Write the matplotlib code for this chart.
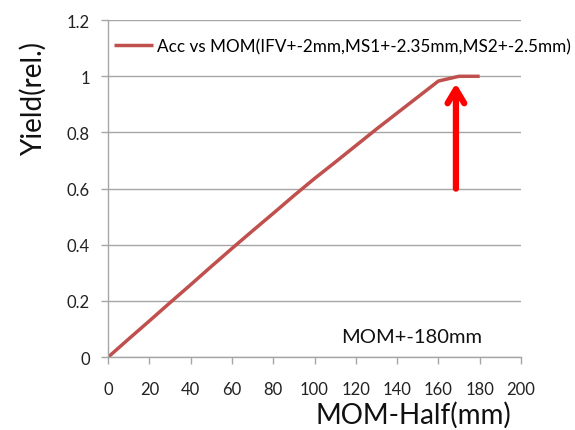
import matplotlib.pyplot as plt

mom_half = [0, 10, 20, 30, 40, 50, 60, 70, 80, 90, 100, 110, 120, 130, 140, 150, 160, 170, 180]
yield_rel = [0, 0.065, 0.129, 0.194, 0.258, 0.323, 0.387, 0.45, 0.512, 0.575, 0.636,
             0.694, 0.753, 0.812, 0.869, 0.926, 0.983, 1.0, 1.0]

x_ticks = list(range(0, 201, 20))
y_ticks = [0, 0.2, 0.4, 0.6, 0.8, 1.0, 1.2]
y_tick_labels = ['0', '0.2', '0.4', '0.6', '0.8', '1', '1.2']

series_label = 'Acc vs MOM(IFV+-2mm,MS1+-2.35mm,MS2+-2.5mm)'

plt.rcParams['font.family'] = ['Lato', 'DejaVu Sans']

fig = plt.figure(figsize=(5.75, 4.31), dpi=100)
ax = fig.add_axes([0.188, 0.169, 0.718, 0.782])

ax.plot(mom_half, yield_rel, color='#C0504D', linewidth=2.5, label=series_label,
        solid_capstyle='butt')

ax.set_xlim(0, 200)
ax.set_ylim(0, 1.2)
ax.set_xticks(x_ticks)
ax.set_yticks(y_ticks)
ax.set_yticklabels(y_tick_labels)
ax.yaxis.grid(True, color='#a6a6a6', linewidth=1)
ax.set_axisbelow(True)

for side in ['top', 'right']:
    ax.spines[side].set_visible(False)
for side in ['left', 'bottom']:
    ax.spines[side].set_color('#a6a6a6')
    ax.spines[side].set_linewidth(1)
ax.tick_params(axis='both', colors='#a6a6a6', length=5, width=1, labelcolor='#222222',
               labelsize=12)
ax.tick_params(axis='x', pad=12)
ax.tick_params(axis='y', pad=8)

ax.set_xlabel('MOM-Half(mm)', fontsize=20, color='#111111', ha='right', va='center')
ax.set_ylabel('Yield(rel.)', fontsize=20, color='#111111', ha='center', va='center')
ax.xaxis.set_label_coords(0.977, -0.17)
ax.yaxis.set_label_coords(-0.18, 0.769)

ax.legend(loc='center left', bbox_to_anchor=(0.0145, 0.923), frameon=False, fontsize=12.3,
          handlelength=2.3, handletextpad=0.2, borderaxespad=0, borderpad=0)

ax.text(113, 0.075, 'MOM+-180mm', fontsize=14.5, color='#111111', va='center')

# red arrow pointing at the plateau
ax.annotate('', xy=(168.5, 0.975), xytext=(168.5, 0.6),
            arrowprops=dict(arrowstyle='->,head_length=1.0,head_width=0.6',
                            color='#ff0000', lw=4.5, shrinkA=0, shrinkB=0))

fig.savefig('out.png', dpi=100)
